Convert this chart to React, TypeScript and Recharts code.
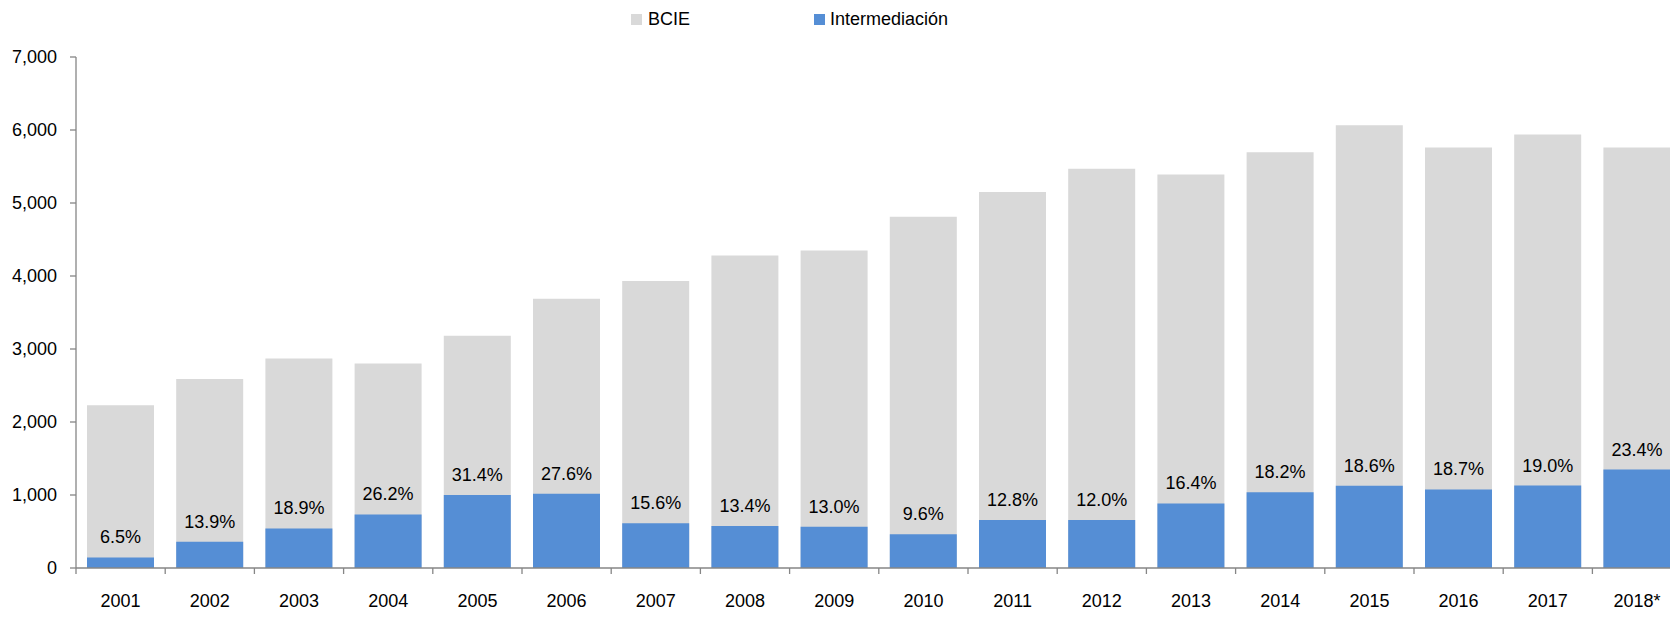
import React from 'react';
import { BarChart, Bar, XAxis, YAxis, LabelList } from 'recharts';

const CATEGORIES = ['2001','2002','2003','2004','2005','2006','2007','2008','2009','2010','2011','2012','2013','2014','2015','2016','2017','2018*'];
const BCIE = [2230, 2590, 2870, 2800, 3180, 3690, 3930, 4280, 4350, 4810, 5150, 5470, 5390, 5695, 6065, 5760, 5940, 5760];
const INTERMEDIACION = [145, 360, 542, 734, 999, 1018, 613, 574, 566, 462, 659, 656, 884, 1036, 1128, 1077, 1129, 1348];
const PCT_LABELS = ['6.5%','13.9%','18.9%','26.2%','31.4%','27.6%','15.6%','13.4%','13.0%','9.6%','12.8%','12.0%','16.4%','18.2%','18.6%','18.7%','19.0%','23.4%'];
const Y_TICKS = [0, 1000, 2000, 3000, 4000, 5000, 6000, 7000];
const SERIES_NAMES = ['BCIE', 'Intermediación'];

const data = CATEGORIES.map((c, i) => ({
  year: c,
  bcie: BCIE[i],
  inter: INTERMEDIACION[i],
  pct: PCT_LABELS[i],
}));

const FONT = '"Liberation Sans", Arial, sans-serif';
const AXIS = '#868686';
const GRAY = '#D9D9D9';
const BLUE = '#558ED5';

const XTick = (props: any) => {
  const { x, y, payload, index, width } = props;
  const half = payload && payload.offset ? payload.offset : width / CATEGORIES.length / 2;
  const axisY = y - 7;
  return (
    <g>
      <line x1={x - half} x2={x - half} y1={axisY} y2={axisY + 6} stroke={AXIS} strokeWidth={1.3} />
      {index === CATEGORIES.length - 1 && (
        <line x1={x + half} x2={x + half} y1={axisY} y2={axisY + 6} stroke={AXIS} strokeWidth={1.3} />
      )}
      <text x={x} y={axisY + 39} textAnchor="middle" fill="#000" fontSize={18} fontFamily={FONT}>
        {payload.value}
      </text>
    </g>
  );
};

const LegendBox = () => (
  <div style={{ position: 'absolute', left: 0, top: 0, width: 1670, height: 40, fontFamily: FONT, fontSize: 18, color: '#000' }}>
    <div style={{ position: 'absolute', left: 631, top: 8, display: 'flex', alignItems: 'center', lineHeight: '22px' }}>
      <span style={{ display: 'inline-block', width: 11, height: 11, background: GRAY, marginRight: 6 }} />
      <span>{SERIES_NAMES[0]}</span>
    </div>
    <div style={{ position: 'absolute', left: 814, top: 8, display: 'flex', alignItems: 'center', lineHeight: '22px' }}>
      <span style={{ display: 'inline-block', width: 11, height: 11, background: BLUE, marginRight: 5 }} />
      <span>{SERIES_NAMES[1]}</span>
    </div>
  </div>
);

export default function App() {
  return (
    <div style={{ position: 'absolute', left: 0, top: 0, width: 1670, height: 640, overflow: 'hidden', background: '#fff' }}>
      <BarChart
        width={1690}
        height={640}
        data={data}
        margin={{ top: 57, right: 8.4, bottom: 42, left: 0 }}
        barGap={-67}
        barSize={67}
      >
        <XAxis
          dataKey="year"
          stroke={AXIS}
          strokeWidth={1.3}
          tickLine={false}
          tickSize={5}
          tickMargin={2}
          interval={0}
          tick={<XTick />}
        />
        <YAxis
          width={76}
          domain={[0, 7000]}
          ticks={Y_TICKS}
          stroke={AXIS}
          strokeWidth={1.3}
          tickSize={6}
          tickMargin={13}
          tick={{ fill: '#000', fontSize: 18, fontFamily: FONT }}
          tickFormatter={(v: number) => v.toLocaleString('en-US')}
          interval={0}
        />
        <Bar dataKey="bcie" name={SERIES_NAMES[0]} fill={GRAY} isAnimationActive={false} />
        <Bar dataKey="inter" name={SERIES_NAMES[1]} fill={BLUE} isAnimationActive={false}>
          <LabelList dataKey="pct" position="top" offset={14} fill="#000" fontSize={18} fontFamily={FONT} />
        </Bar>
      </BarChart>
      <LegendBox />
    </div>
  );
}
